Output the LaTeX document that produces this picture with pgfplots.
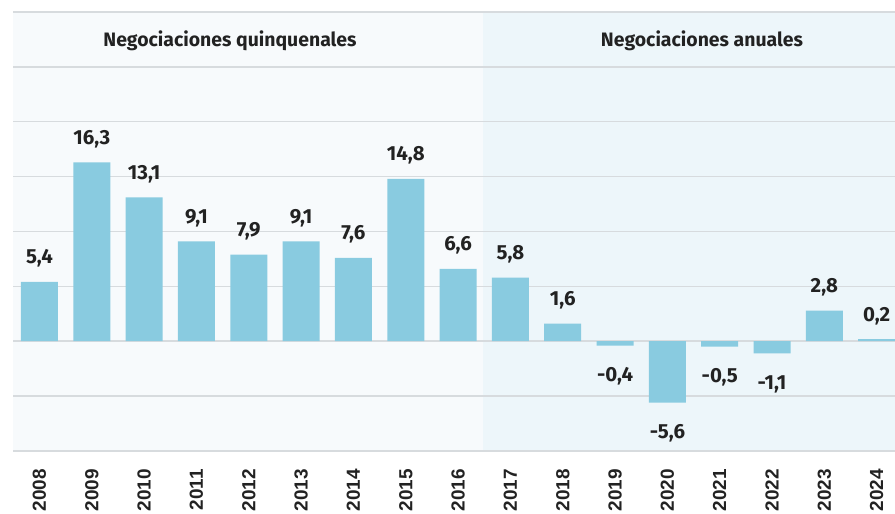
\documentclass[border=0pt]{standalone}
\usepackage{pgfplots}
\pgfplotsset{compat=1.18}
\usepackage{fontspec}
\setmainfont{Fira Sans}
\newfontfamily\yearfont{Liberation Sans}
\definecolor{barblue}{RGB}{137,203,224}
\definecolor{bgleft}{RGB}{247,250,252}
\definecolor{bgright}{RGB}{237,246,250}
\definecolor{gridgray}{RGB}{215,219,222}
\definecolor{txt}{RGB}{34,34,34}
\pgfplotstableread{
x y l
0 5.4 5,4
1 16.3 16,3
2 13.1 13,1
3 9.1 9,1
4 7.9 7,9
5 9.1 9,1
6 7.6 7,6
7 14.8 14,8
8 6.6 6,6
9 5.8 5,8
10 1.6 1,6
15 2.8 2,8
16 0.2 0,2
}\pos
\pgfplotstableread{
x y l
11 -0.4 -0,4
12 -5.6 -5,6
13 -0.5 -0,5
14 -1.1 -1,1
}\neg
\begin{document}
\begin{tikzpicture}
\begin{axis}[
  set layers,
  width=882bp, height=439bp, scale only axis,
  xmin=-0.506, xmax=16.35, ymin=-10, ymax=30,
  ytick={-10,-5,...,30}, yticklabels={},
  ymajorgrids, grid style={gridgray, line width=1.5bp},
  xtick={0,...,16},
  xticklabels={2008,2009,2010,2011,2012,2013,2014,2015,2016,2017,2018,2019,2020,2021,2022,2023,2024},
  axis line style={draw=none},
  major tick length=0pt,
  xticklabel style={rotate=90, anchor=east, inner sep=0pt, font=\yearfont\bfseries\fontsize{19}{19}\selectfont, text=txt},
  xticklabel shift=18bp,
  clip=true,
]
\begin{pgfonlayer}{axis background}
\fill[bgleft] (axis cs:-0.506,-10) rectangle (axis cs:8.475,30);
\fill[bgright] (axis cs:8.475,-10) rectangle (axis cs:16.35,30);
\end{pgfonlayer}
\addplot[ybar, bar width=0.707, bar shift=0pt, fill=barblue, draw=none,
  point meta=explicit symbolic, nodes near coords,
  every node near coord/.append style={anchor=base, yshift=18bp, inner sep=0pt, text=txt, font=\bfseries\fontsize{20.5}{20.5}\selectfont}]
  table[x=x, y=y, meta=l] {\pos};
\addplot[ybar, bar width=0.707, bar shift=0pt, fill=barblue, draw=none,
  point meta=explicit symbolic, nodes near coords,
  every node near coord/.append style={anchor=base, yshift=-36bp, inner sep=0pt, text=txt, font=\bfseries\fontsize{20.5}{20.5}\selectfont}]
  table[x=x, y=y, meta=l] {\neg};
\node[anchor=base, text=txt, font=\bfseries\fontsize{19.5}{19.5}\selectfont] at (axis cs:3.64,26.9) {Negociaciones quinquenales};
\node[anchor=base, text=txt, font=\bfseries\fontsize{19.5}{19.5}\selectfont] at (axis cs:12.66,26.9) {Negociaciones anuales};
\coordinate (bl) at (rel axis cs:0,0);
\coordinate (tr) at (rel axis cs:1,1);
\end{axis}
\pgfresetboundingbox
\path ([shift={(-13bp,-63bp)}]bl) rectangle ([shift={(0bp,12bp)}]tr);
\end{tikzpicture}
\end{document}
